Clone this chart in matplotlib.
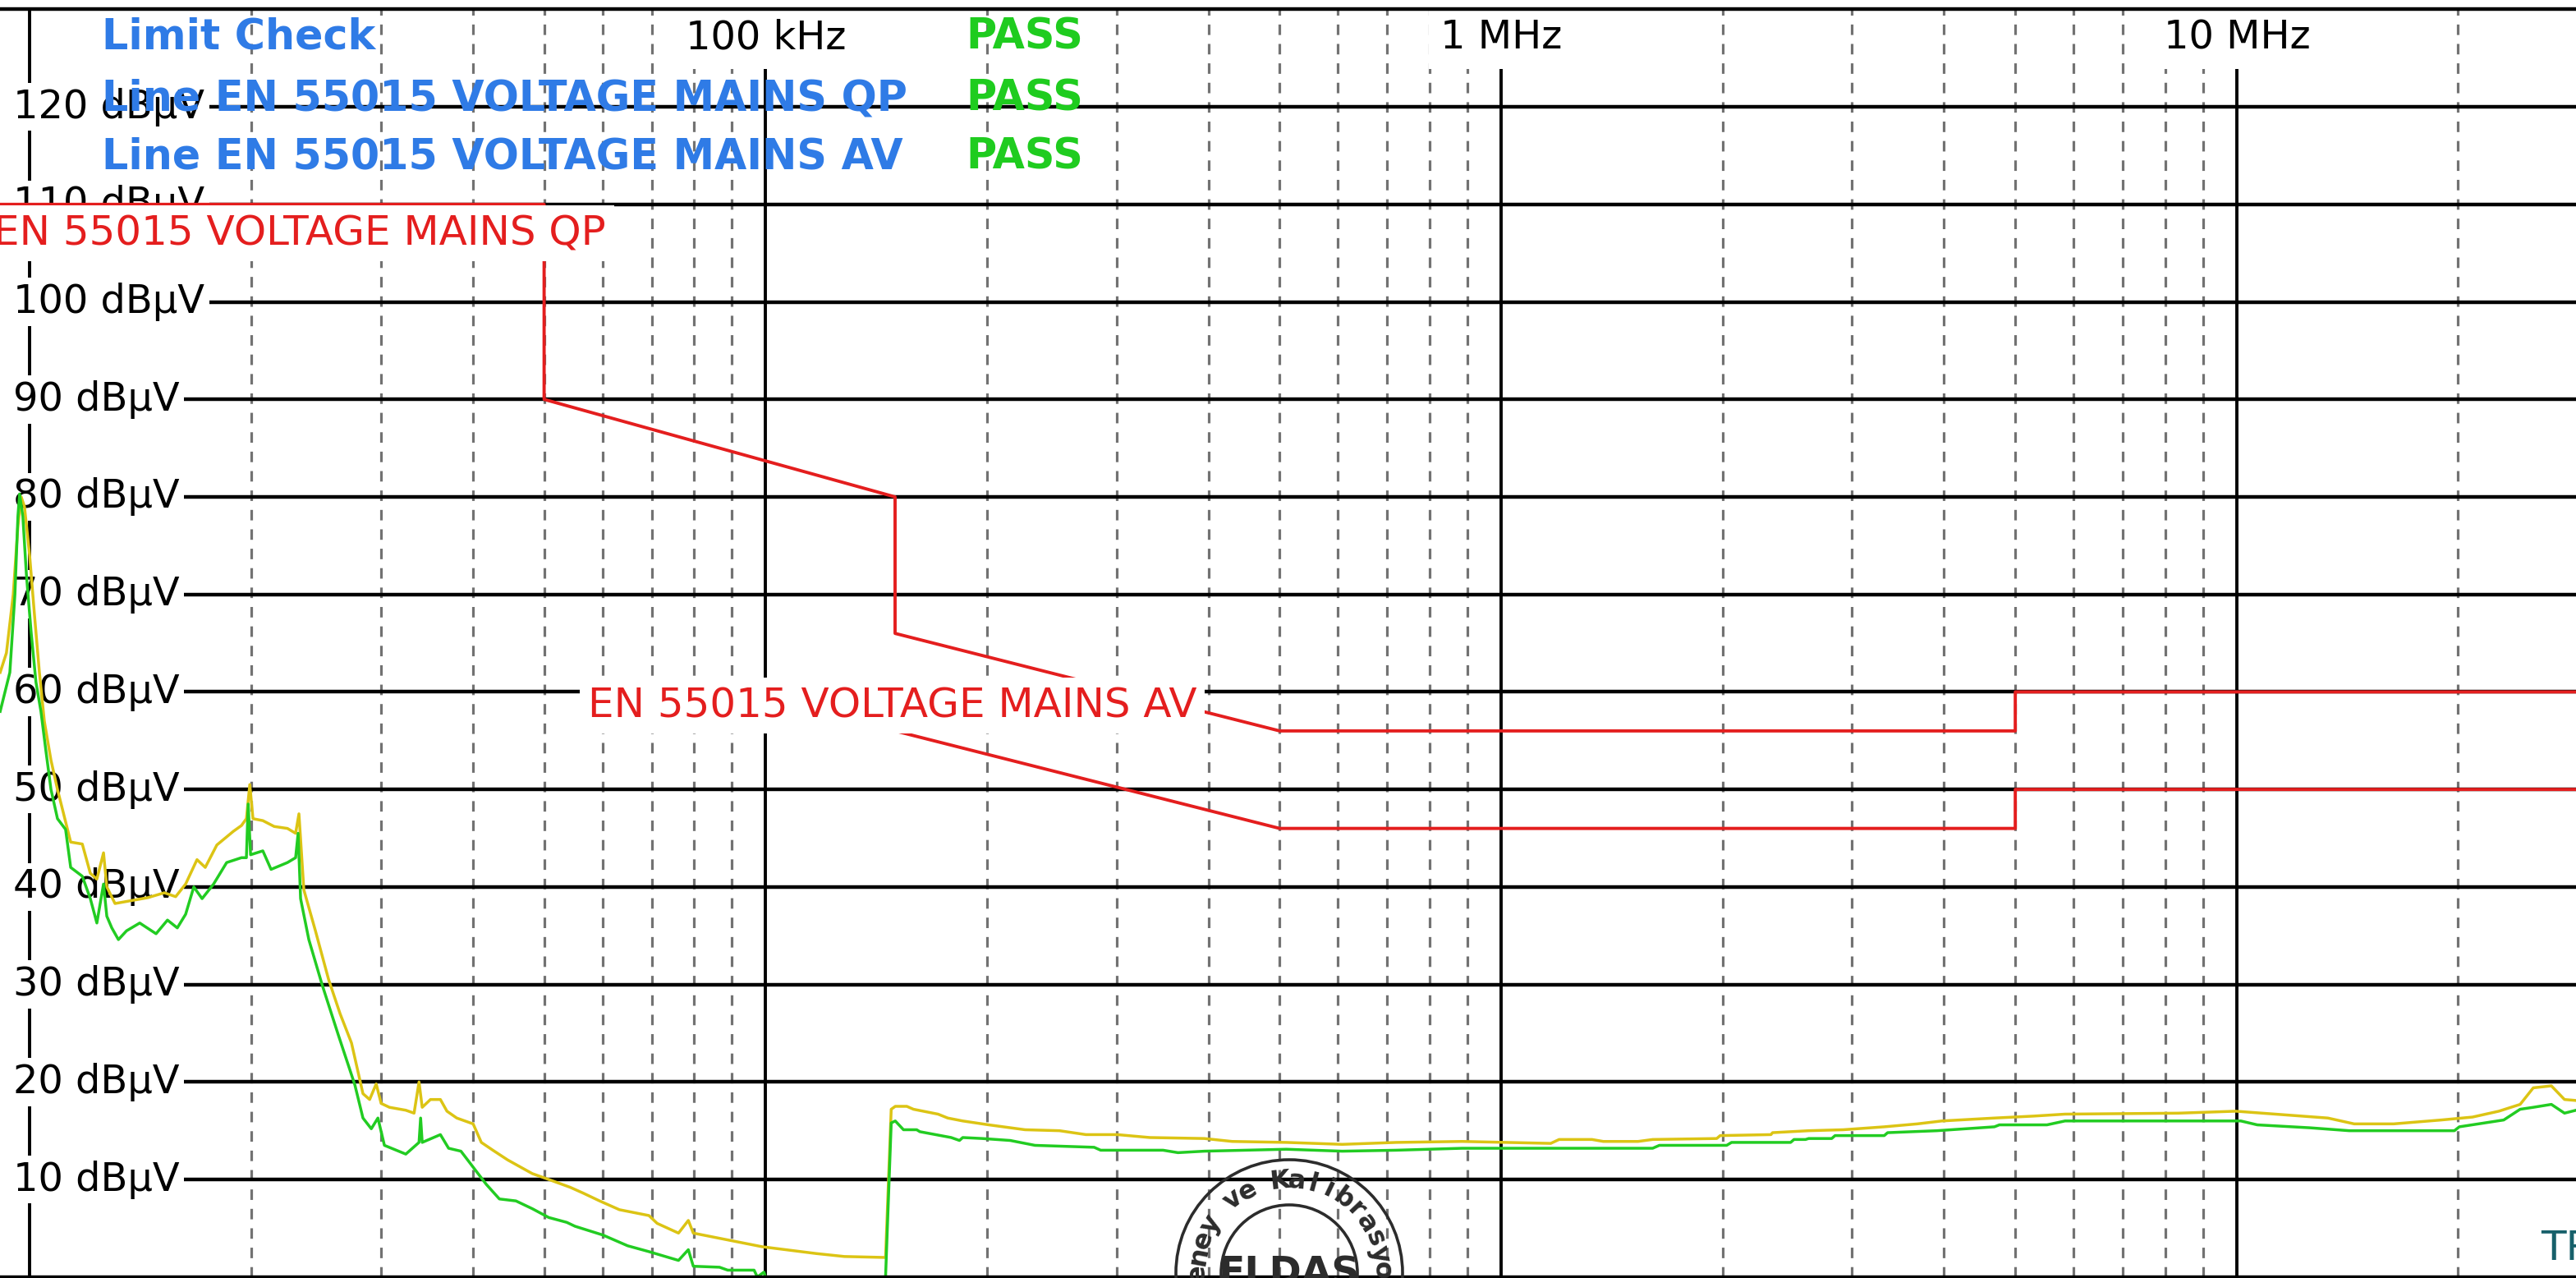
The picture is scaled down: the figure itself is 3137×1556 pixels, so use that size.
import numpy as np
import matplotlib
matplotlib.use("Agg")
import matplotlib.pyplot as plt
from matplotlib import transforms
from matplotlib.patches import Circle

yellow_f = [9.11, 9.29, 9.49, 9.63, 9.73, 9.83, 9.99, 10.14, 10.30, 10.46, 10.68, 10.90,
            11.18, 11.36, 11.78, 12.08, 12.33, 12.59, 12.72, 13.05, 13.74, 14.46, 15.23,
            15.78, 16.28, 16.87, 17.31, 17.95, 18.90, 19.39, 19.69, 19.90, 20.10, 20.73,
            21.48, 22.39, 22.97, 23.21, 23.57, 24.44, 25.47, 26.40, 27.36, 28.07, 28.36,
            28.96, 29.56, 30.02, 30.81, 32.43, 33.28, 33.80, 34.14, 35.03, 36.14, 36.89,
            38.04, 40.04, 41.08, 42.59, 44.62, 48.19, 50.73, 54.24, 56.51, 59.49, 63.29,
            69.42, 71.22, 76.15, 78.53, 79.76, 88.84, 98.98, 106.4, 117.3, 128.0, 145.6,
            148.2, 150.1, 155.6, 158.9, 171.6, 176.9, 185.4, 201.2, 225.3, 251.0, 272.6,
            300.6, 333.1, 394.8, 430.9, 510.5, 608.1, 720.5, 885.0, 1168, 1199, 1329, 1377,
            1535, 1607, 1964, 1985, 2327, 2339, 2619, 2918, 3318, 3679, 3973, 4684, 5298,
            5843, 8333, 9975, 12255, 13304, 14444, 16339, 18970, 20920, 22714, 24284,
            25304, 26776, 27901, 28923]
yellow_db = [62, 64, 70, 77, 80, 79, 74, 68, 62, 57, 53, 50,
             46.7, 44.6, 44.4, 41.4, 40.8, 43.5, 40, 38.3, 38.6, 38.9, 39.4,
             39, 40.3, 42.8, 42, 44.3, 45.7, 46.3, 47, 50.5, 47, 46.8,
             46.2, 46, 45.5, 47.5, 39.7, 35.5, 30.5, 27, 24, 20.3, 18.8,
             18.2, 19.8, 17.8, 17.4, 17.1, 16.8, 20, 17.4, 18.2, 18.2, 17,
             16.3, 15.7, 13.8, 13, 12, 10.6, 10, 9.2, 8.6, 7.8, 6.9,
             6.3, 5.5, 4.5, 5.8, 4.5, 3.8, 3.1, 2.8, 2.4, 2.1, 2.0,
             17.2, 17.5, 17.5, 17.2, 16.7, 16.3, 16.0, 15.6, 15.1, 15.0, 14.6,
             14.6, 14.3, 14.2, 13.9, 13.8, 13.6, 13.8, 13.9, 13.7, 14.1, 14.1, 13.9,
             13.9, 14.1, 14.2, 14.5, 14.6, 14.8, 15.0, 15.1, 15.4, 15.7, 16.0, 16.3, 16.5,
             16.7, 16.8, 17.0, 16.5, 16.3, 15.7, 15.7, 16.1, 16.4, 17.0, 17.7,
             19.4, 19.6, 18.2, 18.1]

green_f = [9.11, 9.25, 9.39, 9.54, 9.63, 9.68, 9.78, 9.89, 10.04, 10.19, 10.35, 10.51,
           10.68, 10.90, 11.18, 11.36, 11.78, 12.08, 12.33, 12.59, 12.72, 12.92, 13.19,
           13.53, 14.10, 14.84, 15.38, 15.86, 16.28, 16.70, 17.14, 17.77, 18.51, 19.39,
           19.69, 19.80, 19.95, 20.73, 21.27, 22.39, 22.97, 23.15, 23.33, 23.94, 24.95,
           26.26, 27.65, 28.36, 29.11, 29.72, 30.33, 32.43, 33.80, 33.97, 34.14, 36.14,
           37.08, 38.54, 40.66, 41.72, 43.47, 45.78, 48.19, 50.73, 53.68, 55.08, 60.11,
           64.94, 69.42, 73.08, 76.15, 78.53, 79.76, 86.59, 88.84, 96.48, 97.47, 99.49,
           100.0, 145.6, 148.2, 150.1, 154.0, 160.5, 162.1, 178.8, 183.5, 185.4, 197.1,
           215.1, 232.4, 279.7, 285.5, 347.1, 363.6, 394.8, 510.5, 608.1, 720.5, 885.0,
           1607, 1641, 2026, 2057, 2475, 2501, 2593, 2619, 2815, 2844, 3318, 3353, 3913,
           4684, 4757, 5521, 5843, 10130, 10665, 12574, 14223, 19766, 20073, 23067, 24284,
           25304, 26776, 27901, 28923]
green_db = [58, 60, 62, 70, 78, 80.3, 78, 72, 66, 61, 58, 54,
            50, 47, 45.9, 42, 41.1, 38.8, 36.3, 40.3, 37, 35.8, 34.6,
            35.5, 36.3, 35.2, 36.6, 35.8, 37.2, 40, 38.8, 40.3, 42.5, 43,
            43, 48.5, 43.3, 43.7, 41.8, 42.5, 43, 45.5, 38.8, 34.6, 30.0,
            24.8, 19.7, 16.3, 15.2, 16.3, 13.5, 12.6, 13.8, 16.3, 13.8, 14.6,
            13.2, 12.9, 10.6, 9.5, 8, 7.8, 7, 6.1, 5.6, 5.2, 4.3,
            3.2, 2.6, 2.1, 1.7, 2.8, 1.1, 1.0, 0.7, 0.7, 0, 0.5,
            0, 0, 15.8, 16.0, 15.1, 15.1, 14.9, 14.3, 14.0, 14.3, 14.2,
            14.0, 13.5, 13.3, 13.0, 13.0, 12.75, 12.9, 13.1, 12.9, 13.0, 13.2,
            13.2, 13.5, 13.5, 13.8, 13.8, 14.1, 14.1, 14.2, 14.2, 14.5, 14.5, 14.8, 15.0,
            15.4, 15.6, 15.6, 16.0, 16.0, 15.6, 15.3, 15.0, 15.0, 15.4, 16.1, 17.2,
            17.4, 17.7, 16.8, 17.1]

# EN 55015 limit lines
qp_f = [9, 50, 50, 150, 150, 500, 5000, 5000, 30000]
qp_db = [110, 110, 90, 80, 66, 56, 56, 60, 60]
av_f = [150, 500, 5000, 5000, 30000]
av_db = [56, 46, 46, 50, 50]

level_ticks = [120, 110, 100, 90, 80, 70, 60, 50, 40, 30, 20, 10]
decades = [10, 100, 1000, 10000]          # kHz
decade_labels = ["", "100 kHz", "1 MHz", "10 MHz"]

W, H = 3137, 1556
fig = plt.figure(figsize=(W / 100, H / 100), dpi=100)
ax = fig.add_axes([0, 0.0008, 1, 0.9919])
ax.set_xscale("log")
ax.set_xlim(9.105, 28923)
ax.set_ylim(0, 130)
ax.set_xticks([])
ax.set_yticks([])
ax.minorticks_off()
for s in ["left", "right"]:
    ax.spines[s].set_visible(False)
for s in ["top", "bottom"]:
    ax.spines[s].set_linewidth(3.2)
    ax.spines[s].set_color("black")
    ax.spines[s].set_zorder(10)

# grid
for d in decades:
    for m in range(2, 10):
        ax.axvline(d * m, color="#727272", lw=2.3, ls=(0, (4.0, 3.4)), zorder=1)
    ax.axvline(d, color="black", lw=2.8, zorder=1.2)
for v in level_ticks:
    ax.axhline(v, xmin=0.006, color="black", lw=3.2, zorder=1.2)

lab = transforms.blended_transform_factory(ax.transAxes, ax.transData)
box = dict(boxstyle="square,pad=0.12", fc="white", ec="none")
for v in level_ticks:
    ax.text(0.0051, v, f"{v} dB\u00b5V", transform=lab, fontsize=34.5, ha="left",
            va="center", bbox=box, zorder=3)
for d, t in zip(decades, decade_labels):
    if t:
        ax.text(d, 127.1, t, fontsize=34.5, ha="center", va="center",
                bbox=dict(boxstyle="square,pad=0.3", fc="white", ec="none"), zorder=3)

# limit lines
ax.plot(qp_f, qp_db, color="#e41e1e", lw=2.8, zorder=4)
ax.plot(av_f, av_db, color="#e41e1e", lw=2.8, zorder=4)
rbox = dict(boxstyle="square,pad=0.2", fc="white", ec="none")
ax.text(0.2353, 107.0, "EN 55015 VOLTAGE MAINS QP", transform=lab, color="#e41e1e",
        fontsize=36, ha="right", va="center", bbox=rbox, zorder=5)
ax.text(0.2282, 58.6, "EN 55015 VOLTAGE MAINS AV", transform=lab, color="#e41e1e",
        fontsize=36, ha="left", va="center", bbox=rbox, zorder=5)

# limit check legend
blue = "#2f7be6"
green = "#1fcc1f"
rows = [("Limit Check", 127.1), ("Line EN 55015 VOLTAGE MAINS QP", 120.8),
        ("Line EN 55015 VOLTAGE MAINS AV", 114.8)]
for t, y in rows:
    ax.text(0.0395, y, t, transform=lab, color=blue, fontsize=36.5, fontweight="bold",
            ha="left", va="center", zorder=3.5)
    ax.text(0.3749, y, "PASS", transform=lab, color=green, fontsize=36.5,
            fontweight="bold", ha="left", va="center", zorder=3.5)

# traces
ax.plot(yellow_f, yellow_db, color="#dcc414", lw=2.5, zorder=6)
ax.plot(green_f, green_db, color="#22cc22", lw=2.5, zorder=7)

ax.text(0.9863, 2.9, "TR", transform=lab, color="#17606a", fontsize=36,
        ha="left", va="center", zorder=8)

# lab stamp overlay
ov = fig.add_axes([0, 0, 1, 1], facecolor="none")
ov.set_xlim(0, W)
ov.set_ylim(H, 0)
ov.axis("off")
ink = "#2c2c2c"
cx, cy = 1570, 1550
ov.add_patch(Circle((cx, cy), 138, fill=False, ec=ink, lw=2.6))
ov.add_patch(Circle((cx, cy), 83, fill=False, ec=ink, lw=2.6))
stamp = "Deney ve Kalibrasyon"
for i, ch in enumerate(stamp):
    if ch == " ":
        continue
    a = np.deg2rad(190.5 - 10.5 * i)
    ov.text(cx + 112 * np.cos(a), cy - 112 * np.sin(a), ch, fontsize=23,
            fontweight="bold", color=ink, ha="center", va="center",
            rotation=np.rad2deg(a) - 90, rotation_mode="anchor")
ov.text(cx, 1528, "ELDAS", fontsize=34, fontweight="bold", color=ink,
        ha="center", va="top")

fig.savefig("out.png", dpi=100, facecolor="white")
